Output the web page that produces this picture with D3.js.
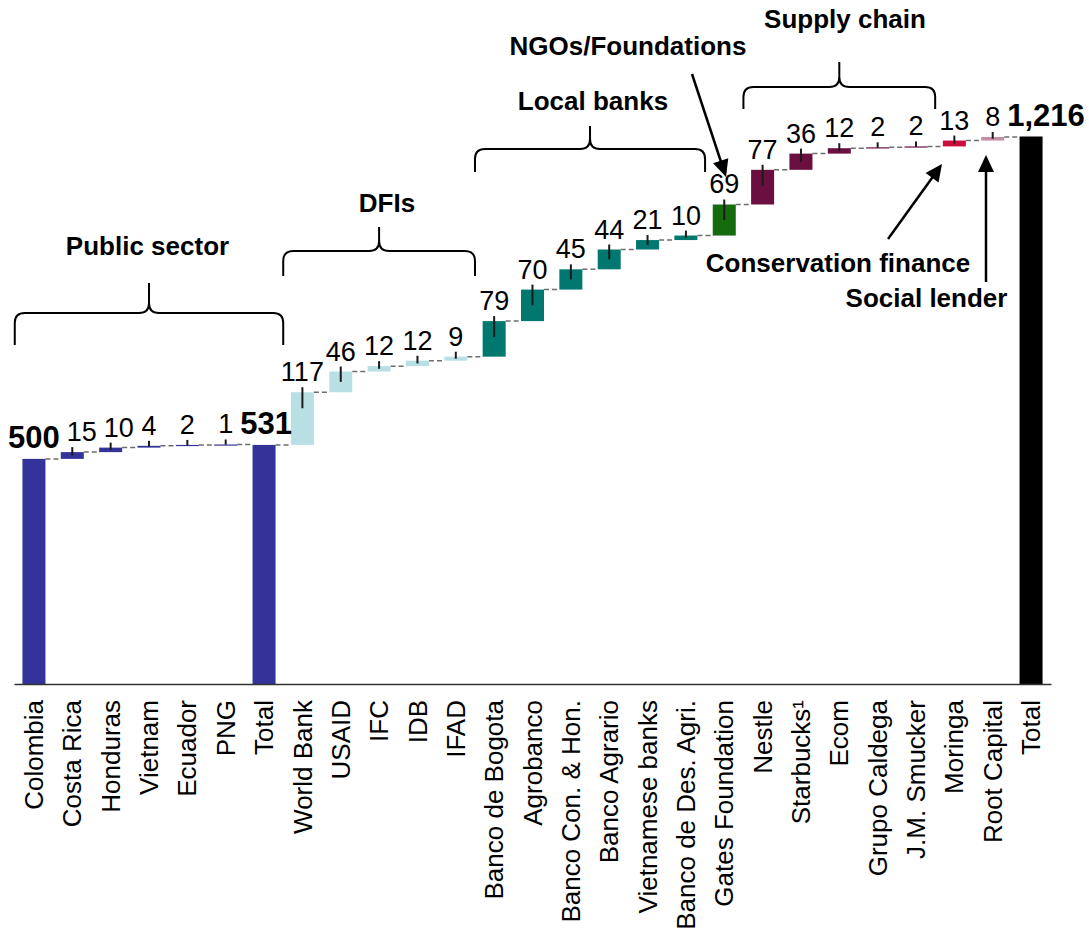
<!DOCTYPE html>
<html><head><meta charset="utf-8">
<script src="https://cdn.jsdelivr.net/npm/d3@7"></script>
<style>
body{margin:0;background:#fff}
svg{display:block;background:#fff}
text{font-family:"Liberation Sans",Arial,Helvetica,sans-serif;fill:#000}
</style>
</head><body>
<svg id="chart" width="1089" height="934"></svg>
<script>
// ---------- DATA ----------
const categories = ["Colombia","Costa Rica","Honduras","Vietnam","Ecuador","PNG","Total",
  "World Bank","USAID","IFC","IDB","IFAD",
  "Banco de Bogota","Agrobanco","Banco Con. & Hon.","Banco Agrario","Vietnamese banks","Banco de Des. Agri.",
  "Gates Foundation",
  "Nestle","Starbucks¹","Ecom","Grupo Caldega","J.M. Smucker",
  "Moringa","Root Capital","Total"];
const values = [500,15,10,4,2,1,531, 117,46,12,12,9, 79,70,45,44,21,10, 69, 77,36,12,2,2, 13,8,1216];
const kinds  = ["total","step","step","step","step","step","total",
  "step","step","step","step","step",
  "step","step","step","step","step","step",
  "step",
  "step","step","step","step","step",
  "step","step","total"];
const segment = ["public","public","public","public","public","public","public",
  "dfi","dfi","dfi","dfi","dfi",
  "bank","bank","bank","bank","bank","bank",
  "ngo",
  "supply","supply","supply","supply","supply",
  "conservation","social","grand"];
const valueLabels = ["500","15","10","4","2","1","531","117","46","12","12","9","79","70","45","44","21","10","69","77","36","12","2","2","13","8","1,216"];

// groups shown with braces (index ranges into categories)
const braceGroups = [
  {name:"Public sector", first:0,  last:6},
  {name:"DFIs",          first:7,  last:11},
  {name:"Local banks",   first:12, last:17},
  {name:"Supply chain",  first:19, last:23}
];

// ---------- STYLE / LAYOUT ----------
const colors = {public:"#333399", dfi:"#B8DFE3", bank:"#00786F", ngo:"#156B0E",
  supply:"#6B0F40", conservation:"#CC0D3E", social:"#C28DA5", grand:"#000000"};
const braceLayout = [
  {yH:313, yTip:283, yEnd:345, lx:147.5, ly:255},
  {yH:251, yTip:227, yEnd:276, lx:387,   ly:212},
  {yH:149, yTip:126, yEnd:172, lx:593,   ly:110},
  {yH:87,  yTip:62,  yEnd:109, lx:845,   ly:28}
];
const notes = [
  {text:"NGOs/Foundations",     x:628,   y:55,  from:[692,74],  to:[726,177]},
  {text:"Conservation finance", x:838,   y:272, from:[888,239], to:[942,164]},
  {text:"Social lender",        x:926.5, y:307, from:[986,282], to:[986,155]}
];

const svg = d3.select("#chart");
const baseY = 684;
const x = d3.scaleBand().domain(d3.range(categories.length)).range([14,1051])
  .paddingInner(0.4).paddingOuter(0.22);
const y = d3.scaleLinear().domain([0,1216]).range([baseY,136.5]);
const bw = x.bandwidth();
const gapHalf = (x.step()-bw)/2;

// waterfall computation
let run = 0;
const bars = values.map((v,i)=>{
  let base, top;
  if(kinds[i]==="total"){ base=0; top=v; run=v; }
  else { base=run; run+=v; top=run; }
  return {i, v, base, top, kind:kinds[i], seg:segment[i], label:valueLabels[i]};
});

// connectors
const conn = bars.slice(0,-1).map((b,k)=>({x1:x(b.i)+bw, x2:x(bars[k+1].i), y:y(b.top)}));
svg.append("g").selectAll("line").data(conn).join("line")
  .attr("x1",d=>d.x1).attr("x2",d=>d.x2).attr("y1",d=>d.y).attr("y2",d=>d.y)
  .attr("stroke","#6e6e6e").attr("stroke-width",1.5).attr("stroke-dasharray","5,3");

// bars
svg.append("g").selectAll("rect").data(bars).join("rect")
  .attr("x",d=>x(d.i)).attr("width",bw)
  .attr("y",d=>y(d.top)).attr("height",d=>Math.max(1.2, y(d.base)-y(d.top)))
  .attr("fill",d=>colors[d.seg]);

// leader ticks on step bars
svg.append("g").selectAll("line").data(bars.filter(d=>d.kind==="step")).join("line")
  .attr("x1",d=>x(d.i)+bw/2).attr("x2",d=>x(d.i)+bw/2)
  .attr("y1",d=>y(d.top)-5)
  .attr("y2",d=>y(d.top)+Math.min((y(d.base)-y(d.top))/2,16))
  .attr("stroke","#1a1a1a").attr("stroke-width",2);

// axis
const axis = d3.axisBottom(x).tickSize(0).tickSizeOuter(0).tickFormat(i=>categories[i]);
const ax = svg.append("g").attr("transform",`translate(0,${baseY})`).call(axis);
ax.select(".domain").attr("stroke","#333").attr("stroke-width",1.5);
ax.selectAll("text")
  .attr("transform","rotate(-90)").attr("x",-16).attr("y",0).attr("dy","0.35em")
  .style("text-anchor","end").style("font-size","26px")
  .style("font-family",'"Liberation Sans",Arial,sans-serif').attr("fill","#000");

// value labels with simple overlap avoidance
const lab = svg.append("g").selectAll("text").data(bars).join("text")
  .attr("text-anchor","middle")
  .attr("y",d=>y(d.top)-11)
  .attr("x",d=>x(d.i)+bw/2)
  .style("font-size",d=>d.kind==="total"?"31px":"27px")
  .style("font-weight",d=>d.kind==="total"?"bold":"normal")
  .text(d=>d.label);
let prev = null;
lab.each(function(d){
  const w = this.getComputedTextLength();
  let cx = x(d.i)+bw/2;
  const by = y(d.top)-11;
  if(prev && Math.abs(prev.by-by) < 20 && cx - w/2 < prev.right + 7){
    cx = prev.right + 7 + w/2;
  }
  d3.select(this).attr("x",cx);
  prev = {right:cx+w/2, by};
});

// braces
function bracePath(x0,x1,yH,yTip,yEnd){
  const r=10, xm=(x0+x1)/2;
  return `M${x0},${yEnd} L${x0},${yH+r} Q${x0},${yH} ${x0+r},${yH} L${xm-r},${yH} Q${xm},${yH} ${xm},${yH-r} L${xm},${yTip}`+
         ` M${xm},${yTip} L${xm},${yH-r} Q${xm},${yH} ${xm+r},${yH} L${x1-r},${yH} Q${x1},${yH} ${x1},${yH+r} L${x1},${yEnd}`;
}
const bg = svg.append("g");
braceGroups.forEach((g,k)=>{
  const L = braceLayout[k];
  const x0 = x(g.first)-gapHalf, x1 = x(g.last)+bw+gapHalf;
  bg.append("path").attr("d",bracePath(x0,x1,L.yH,L.yTip,L.yEnd))
    .attr("fill","none").attr("stroke","#000").attr("stroke-width",2);
  bg.append("text").attr("x",L.lx).attr("y",L.ly).attr("text-anchor","middle")
    .style("font-size","26px").style("font-weight","bold").text(g.name);
});

// notes with arrows
const ng = svg.append("g");
notes.forEach(n=>{
  ng.append("text").attr("x",n.x).attr("y",n.y).attr("text-anchor","middle")
    .style("font-size","26px").style("font-weight","bold").text(n.text);
  const [fx,fy]=n.from, [tx,ty]=n.to;
  const a = Math.atan2(ty-fy,tx-fx), len=17, half=8;
  const bx = tx-len*Math.cos(a), by = ty-len*Math.sin(a);
  ng.append("line").attr("x1",fx).attr("y1",fy).attr("x2",bx+2*Math.cos(a)).attr("y2",by+2*Math.sin(a))
    .attr("stroke","#000").attr("stroke-width",2.5);
  const px=-Math.sin(a), py=Math.cos(a);
  ng.append("path").attr("d",`M${tx},${ty} L${bx+half*px},${by+half*py} L${bx-half*px},${by-half*py} Z`)
    .attr("fill","#000");
});
</script>
</body></html>
